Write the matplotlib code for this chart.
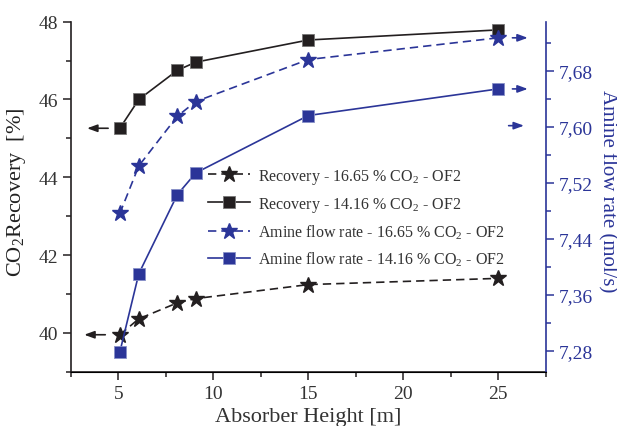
import matplotlib.pyplot as plt

plt.rcParams['font.family'] = ['Liberation Serif', 'DejaVu Serif']
plt.rcParams['mathtext.fontset'] = 'custom'
plt.rcParams['mathtext.rm'] = 'Liberation Serif'
plt.rcParams['mathtext.it'] = 'Liberation Serif:italic'

# Absorber heights [m]
height = [5.07, 6.07, 8.1, 9.07, 15, 25]

# CO2 recovery [%]
recovery_1665 = [39.95, 40.36, 40.77, 40.88, 41.24, 41.40]
recovery_1416 = [45.26, 46.00, 46.75, 46.96, 47.53, 47.79]

# Amine flow rate [mol/s]
amine_1665 = [7.476, 7.544, 7.615, 7.636, 7.696, 7.727]
amine_1416 = [7.278, 7.390, 7.503, 7.534, 7.616, 7.654]

blue = '#2b3598'
dark = '#231f20'

fig = plt.figure(figsize=(6.17, 4.27), dpi=100)
ax = fig.add_axes([0.1151, 0.1272, 0.7694, 0.8196])
ax2 = ax.twinx()

l1, = ax.plot(height, recovery_1665, '--', color=dark, marker='*', markersize=12,
              lw=1.2, dashes=(5, 3), label='Recovery - 16.65 % CO$_2$ - OF2')
l2, = ax.plot(height, recovery_1416, '-', color=dark, marker='s', markersize=8,
              markeredgecolor='#777777', markeredgewidth=0.6, lw=1.2,
              label='Recovery - 14.16 % CO$_2$ - OF2')
l3, = ax2.plot(height, amine_1665, '--', color=blue, marker='*', markersize=12,
               lw=1.2, dashes=(5, 3), label='Amine flow rate - 16.65 % CO$_2$ - OF2')
l4, = ax2.plot(height, amine_1416, '-', color=blue, marker='s', markersize=8,
               markeredgecolor='#8890c8', markeredgewidth=0.6, lw=1.2,
               label='Amine flow rate - 14.16 % CO$_2$ - OF2')

ax.set_xlim(2.5, 27.5)
ax.set_ylim(39, 48)
ax2.set_ylim(7.25, 7.75)

ax.set_xticks([5, 10, 15, 20, 25])
ax.set_xticks([2.5, 7.5, 12.5, 17.5, 22.5, 27.5], minor=True)
ax.set_yticks([40, 42, 44, 46, 48])
ax.set_yticks([39, 41, 43, 45, 47], minor=True)
ax2.set_yticks([7.28, 7.36, 7.44, 7.52, 7.60, 7.68])
ax2.set_yticks([7.32, 7.40, 7.48, 7.56, 7.64, 7.72], minor=True)
ax2.set_yticklabels(['7,28', '7,36', '7,44', '7,52', '7,60', '7,68'])

for a in (ax, ax2):
    a.spines['top'].set_visible(False)
ax.spines['right'].set_visible(False)
ax2.spines['left'].set_visible(False)
ax2.spines['right'].set_color(blue)
ax2.spines['right'].set_linewidth(1.2)
ax.spines['left'].set_linewidth(1.2)
ax.spines['bottom'].set_linewidth(1.2)
ax.spines['left'].set_color(dark)
ax.spines['bottom'].set_color(dark)

ax.tick_params(which='major', direction='out', length=6, width=1.1, labelsize=14,
               colors=dark, labelcolor='#333333')
ax.tick_params(which='minor', direction='out', length=3.5, width=1.1, colors=dark)
ax2.tick_params(which='major', direction='out', length=6, width=1.1, labelsize=14,
                colors=blue, labelcolor=blue)
ax2.tick_params(which='minor', direction='out', length=3.5, width=1.1, colors=blue)

ax.set_xlabel('Absorber Height [m]', fontsize=16, color='#333333', labelpad=4)
ax.set_ylabel('CO$_2$Recovery  [%]', fontsize=16, color='#222222',
              va='center', ha='center')
ax.yaxis.set_label_coords(-0.114, 0.516)
ax2.set_ylabel('Amine flow rate (mol/s)', fontsize=15, color=blue, rotation=270,
               va='center', ha='center')
ax2.yaxis.set_label_coords(1.129, 0.519)

# Arrows pointing each series to its axis
arrow_k = dict(arrowstyle='-|>,head_length=0.6,head_width=0.22', color=dark, lw=1.2)
ax.annotate('', xy=(3.2, recovery_1416[0]), xytext=(4.6, recovery_1416[0]),
            arrowprops=arrow_k)
ax.annotate('', xy=(3.05, recovery_1665[0]), xytext=(4.45, recovery_1665[0]),
            arrowprops=arrow_k)
arrow_b = dict(arrowstyle='-|>,head_length=0.6,head_width=0.22', color=blue, lw=1.2)
ax2.annotate('', xy=(26.7, amine_1665[-1]), xytext=(25.6, amine_1665[-1]),
             arrowprops=arrow_b)
ax2.annotate('', xy=(26.7, amine_1416[-1]), xytext=(25.6, amine_1416[-1]),
             arrowprops=arrow_b)
ax2.annotate('', xy=(26.5, 7.6015), xytext=(25.4, 7.6015), arrowprops=arrow_b)

leg = ax2.legend(handles=[l1, l2, l3, l4], loc='upper left',
                 bbox_to_anchor=(0.259, 0.626), frameon=False, fontsize=11.5,
                 handlelength=2.6, labelspacing=0.55, handletextpad=0.5)
for t in leg.get_texts():
    t.set_color('#333333')

fig.savefig('out.png', dpi=100)
